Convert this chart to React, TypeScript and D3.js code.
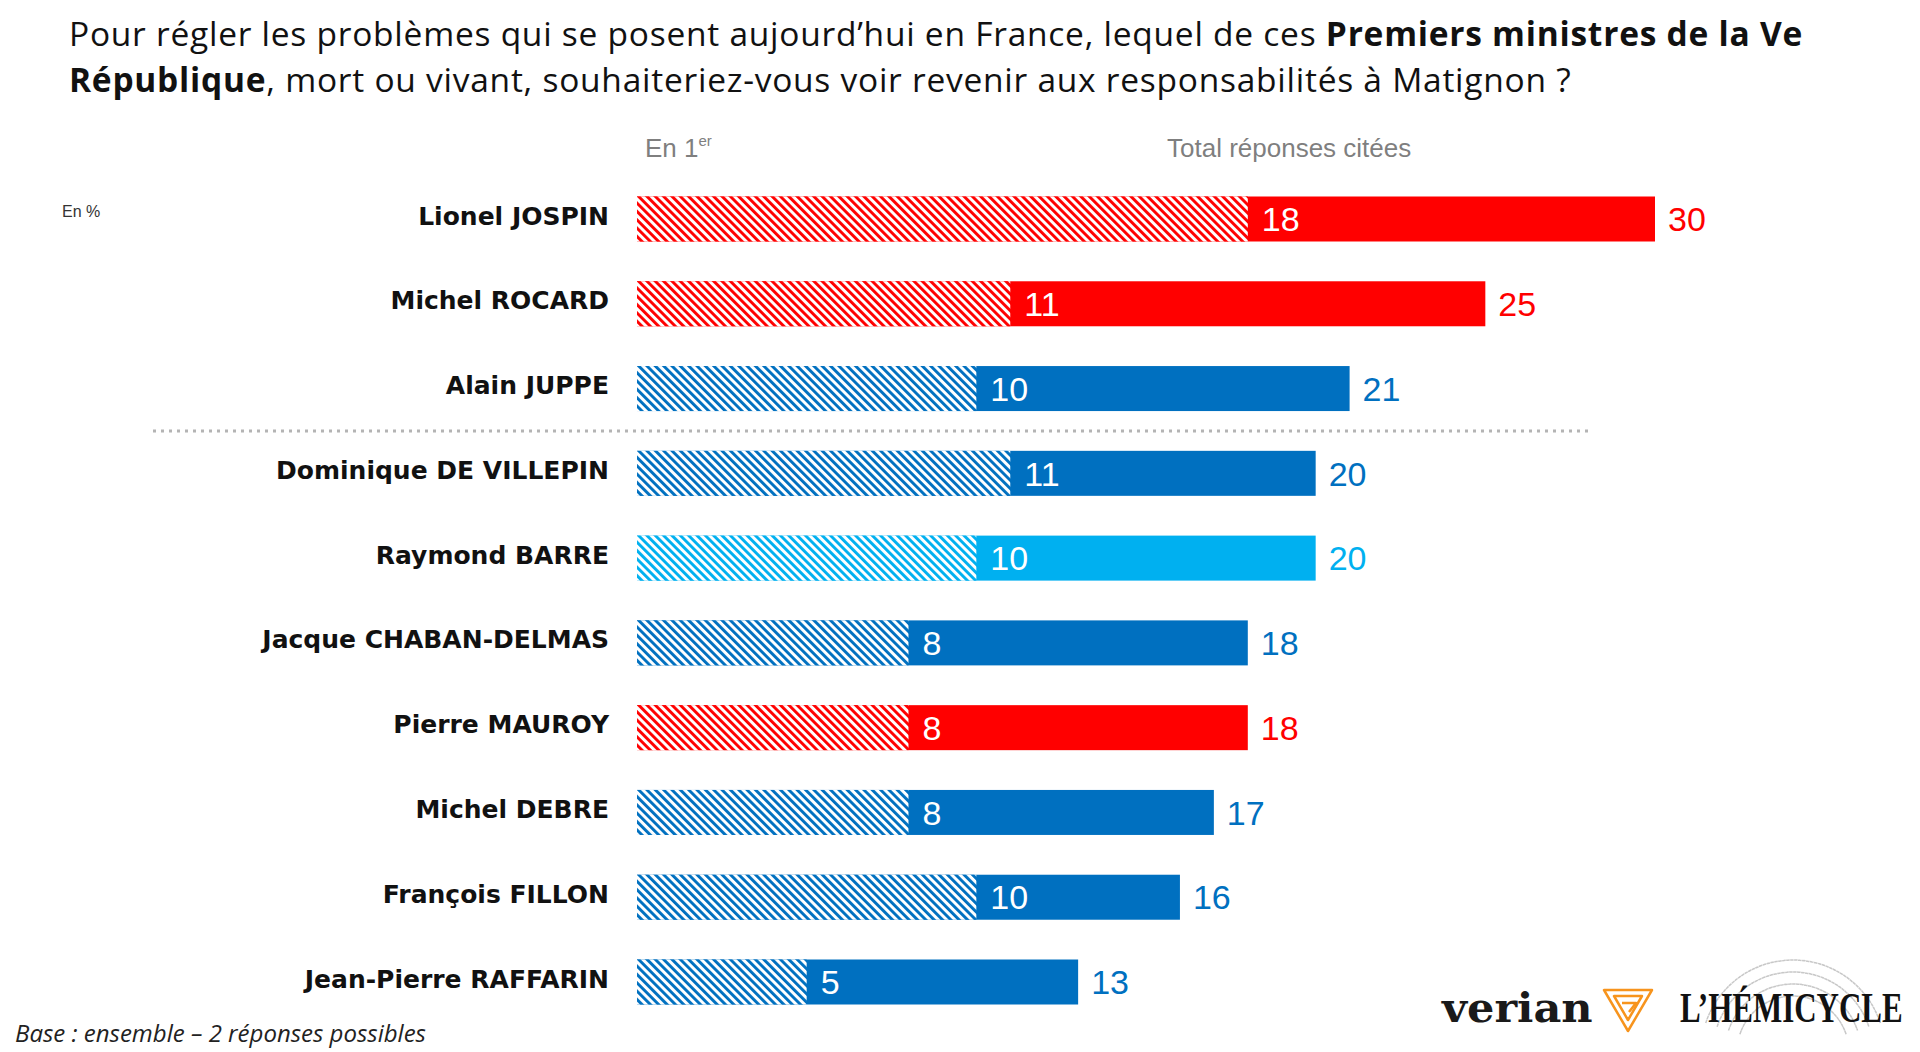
import React, { useEffect, useRef } from 'react';
import * as d3 from 'd3';

// Premiers ministres et scores (en %)
const names: string[] = [
  'Lionel JOSPIN',
  'Michel ROCARD',
  'Alain JUPPE',
  'Dominique DE VILLEPIN',
  'Raymond BARRE',
  'Jacque CHABAN-DELMAS',
  'Pierre MAUROY',
  'Michel DEBRE',
  'François FILLON',
  'Jean-Pierre RAFFARIN',
];
const firstChoice: number[] = [18, 11, 10, 11, 10, 8, 8, 8, 10, 5];
const totalCited: number[] = [30, 25, 21, 20, 20, 18, 18, 17, 16, 13];
const family: string[] = [
  'gauche', 'gauche', 'droite', 'droite', 'centre',
  'droite', 'gauche', 'droite', 'droite', 'droite',
];
const familyKeys: string[] = ['gauche', 'droite', 'centre'];
const familyColors: string[] = ['#ff0000', '#0070c0', '#00b0f0'];

const W = 1920;
const H = 1052;

const App = () => {
  const svgRef = useRef<SVGSVGElement>(null);

  useEffect(() => {
    const svg = d3.select(svgRef.current);
    svg.selectAll('*').remove();

    const color = d3.scaleOrdinal<string, string>().domain(familyKeys).range(familyColors);

    const x = d3.scaleLinear().domain([0, 30]).range([637, 1655]);
    const y = d3.scalePoint<string>().domain(names).range([219, 982]);
    const barH = 45;

    // motifs hachurés pour la part "En 1er"
    const defs = svg.append('defs');
    familyKeys.forEach((k) => {
      const p = defs.append('pattern')
        .attr('id', `hatch-${k}`)
        .attr('patternUnits', 'userSpaceOnUse')
        .attr('width', 5.9)
        .attr('height', 5.9)
        .attr('patternTransform', 'rotate(-45)');
      p.append('rect').attr('width', 5.9).attr('height', 5.9).attr('fill', '#fff');
      p.append('rect').attr('width', 2.9).attr('height', 5.9).attr('fill', color(k));
    });

    // titre
    const title = svg.append('text')
      .attr('font-family', '"Open Sans", sans-serif')
      .attr('font-size', 33.5)
      .attr('letter-spacing', 0.75)
      .attr('fill', '#111');
    const l1 = title.append('tspan').attr('x', 69).attr('y', 46);
    l1.append('tspan').text('Pour régler les problèmes qui se posent aujourd’hui en France, lequel de ces ');
    l1.append('tspan').attr('font-weight', 700).text('Premiers ministres de la Ve');
    const l2 = title.append('tspan').attr('x', 69).attr('y', 92);
    l2.append('tspan').attr('font-weight', 700).text('République');
    l2.append('tspan').text(', mort ou vivant, souhaiteriez-vous voir revenir aux responsabilités à Matignon ?');

    // en-têtes de colonnes
    const head = svg.append('g')
      .attr('font-family', '"Liberation Sans", Arial, sans-serif')
      .attr('font-size', 26)
      .attr('fill', '#7f7f7f');
    const h1 = head.append('text').attr('x', 645).attr('y', 157);
    h1.append('tspan').text('En 1');
    h1.append('tspan').attr('font-size', 15).attr('dy', -11).text('er');
    head.append('text').attr('x', 1167).attr('y', 157).text('Total réponses citées');

    svg.append('text')
      .attr('x', 62).attr('y', 217)
      .attr('font-family', '"Liberation Sans", Arial, sans-serif')
      .attr('font-size', 16)
      .attr('fill', '#333')
      .text('En %');

    // séparateur
    const sepY = (y(names[2])! + y(names[3])!) / 2;
    svg.append('line')
      .attr('x1', 153).attr('x2', 1592)
      .attr('y1', sepY).attr('y2', sepY)
      .attr('stroke', '#b4b4b4')
      .attr('stroke-width', 3)
      .attr('stroke-dasharray', '3 5');

    const rows = svg.append('g')
      .selectAll('g')
      .data(names)
      .join('g')
      .attr('transform', (d) => `translate(0, ${y(d)})`);

    rows.append('text')
      .attr('x', 609)
      .attr('dy', '0.22em')
      .attr('text-anchor', 'end')
      .attr('font-family', '"DejaVu Sans", sans-serif')
      .attr('font-weight', 700)
      .attr('font-size', 25)
      .attr('fill', '#111')
      .text((d) => d);

    // total cité
    rows.append('rect')
      .attr('x', x(0))
      .attr('y', -barH / 2)
      .attr('width', (_, i) => x(totalCited[i]) - x(0))
      .attr('height', barH)
      .attr('fill', (_, i) => color(family[i]));

    // part en premier (hachurée)
    rows.append('rect')
      .attr('x', x(0))
      .attr('y', -barH / 2)
      .attr('width', (_, i) => x(firstChoice[i]) - x(0))
      .attr('height', barH)
      .attr('fill', (_, i) => `url(#hatch-${family[i]})`);

    rows.append('text')
      .attr('x', (_, i) => x(firstChoice[i]) + 14)
      .attr('dy', '0.36em')
      .attr('font-family', '"Liberation Sans", Arial, sans-serif')
      .attr('font-size', 34)
      .attr('fill', '#fff')
      .text((_, i) => firstChoice[i]);

    rows.append('text')
      .attr('x', (_, i) => x(totalCited[i]) + 13)
      .attr('dy', '0.36em')
      .attr('font-family', '"Liberation Sans", Arial, sans-serif')
      .attr('font-size', 34)
      .attr('fill', (_, i) => color(family[i]))
      .text((_, i) => totalCited[i]);

    // note de bas de page
    svg.append('text')
      .attr('x', 15).attr('y', 1042)
      .attr('font-family', '"Open Sans", sans-serif')
      .attr('font-style', 'italic')
      .attr('font-size', 24)
      .attr('fill', '#222')
      .text('Base : ensemble – 2 réponses possibles');

    // logos
    const logos = svg.append('g');
    logos.append('text')
      .attr('transform', 'translate(1442, 1022) scale(1.05, 1)')
      .attr('font-family', '"DejaVu Serif", serif')
      .attr('font-weight', 700)
      .attr('font-size', 41)
      .attr('fill', '#1a1a1a')
      .text('verian');

    const tri = logos.append('g')
      .attr('fill', 'none')
      .attr('stroke', '#f7941d')
      .attr('stroke-width', 2.5)
      .attr('stroke-linejoin', 'round');
    tri.append('path').attr('d', 'M1604,990 L1652,990 L1628,1031 Z');
    tri.append('path').attr('d', 'M1614,996 L1642,996 L1628,1020 Z');
    tri.append('path').attr('d', 'M1622,1003 L1636,1003 L1629,1012');

    const arcs = logos.append('g')
      .attr('fill', 'none')
      .attr('stroke', '#c8c8c8')
      .attr('stroke-width', 1.5)
      .attr('stroke-dasharray', '2 2');
    [92, 80, 68, 56].forEach((r) => {
      const arc = d3.arc()({ innerRadius: r, outerRadius: r, startAngle: -1.25, endAngle: 1.25 });
      arcs.append('path').attr('transform', 'translate(1793, 1052)').attr('d', arc as string);
    });

    logos.append('text')
      .attr('transform', 'translate(1680, 1022) scale(1, 1.38)')
      .attr('font-family', '"Liberation Serif", serif')
      .attr('font-weight', 700)
      .attr('font-size', 31)
      .attr('fill', '#111')
      .text('L’HÉMICYCLE');
  }, []);

  return (
    <svg
      ref={svgRef}
      width={W}
      height={H}
      style={{ position: 'absolute', left: 0, top: 0, background: '#fff' }}
    />
  );
};

export default App;
